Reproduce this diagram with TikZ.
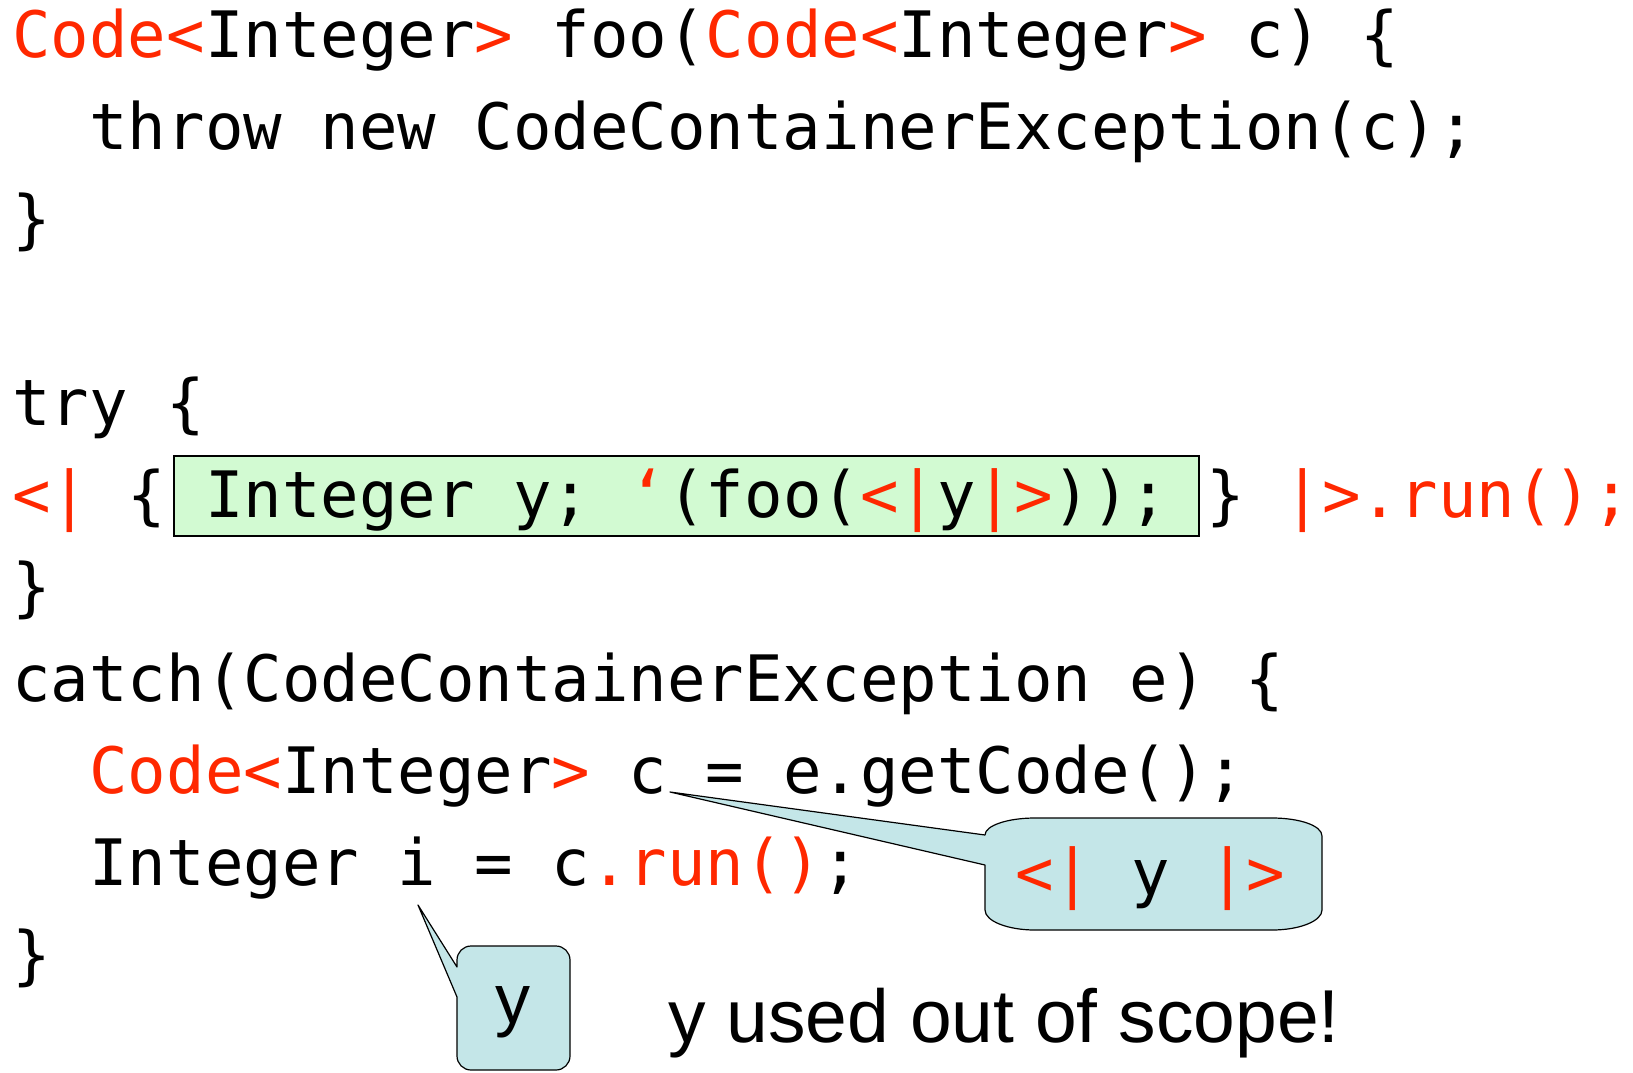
\documentclass[tikz,border=0pt]{standalone}
\usepackage{fontspec}
\newfontfamily\codefont{DejaVu Sans Mono}
\newfontfamily\labelfont{Liberation Sans}
\definecolor{codered}{RGB}{255,40,0}
\definecolor{boxgreen}{RGB}{210,250,210}
\definecolor{calloutfill}{RGB}{196,230,232}
\newcommand{\rd}[1]{\textcolor{codered}{#1}}
\tikzset{
  codeline/.style={anchor=base west, inner sep=0pt, font=\codefont\fontsize{32pt}{46pt}\selectfont},
  calloutshape/.style={draw=black, line width=0.6pt, fill=calloutfill, line join=round},
  greenbox/.style={draw=black, line width=0.75pt, fill=boxgreen},
  remark/.style={anchor=base west, inner sep=0pt, font=\labelfont\fontsize{37.5pt}{45pt}\selectfont},
  calloutlabel/.style={anchor=base, inner sep=0pt, font=\labelfont\fontsize{35pt}{42pt}\selectfont}
}
\begin{document}
\begin{tikzpicture}[x=0.5pt,y=-0.5pt]
\useasboundingbox (0,0) rectangle (1633,1072);
% green highlight box
\draw[greenbox] (174,456) rectangle (1199,536);
% code lines
\node[codeline] (l1) at (12,57) {\rd{Code<}Integer\rd{>} foo(\rd{Code<}Integer\rd{>} c) \{};
\node[codeline] (l2) at (89.06,149) {throw new CodeContainerException(c);};
\node[codeline] (l3) at (12,241) {\}};
\node[codeline] (l5) at (12,425) {try \{};
\node[codeline] (l6) at (12,517) {\rd{<|} \{ Integer y; \rd{‘}(foo(\rd{<|}y\rd{|>})); \} \rd{|>.run();}};
\node[codeline] (l7) at (12,609) {\}};
\node[codeline] (l8) at (12,701) {catch(CodeContainerException e) \{};
\node[codeline] (l9) at (89.06,793) {\rd{Code<}Integer\rd{>} c = e.getCode();};
\node[codeline] (l10) at (89.06,885) {Integer i = c\rd{.run()};};
\node[codeline] (l11) at (12,977) {\}};
% callout 1
\coordinate (tipA) at (670,792);
\draw[calloutshape] (tipA) -- (985,835)
  .. controls (985,825.6) and (1007.4,818) .. (1035,818)
  -- (1272,818)
  .. controls (1299.6,818) and (1322,825.6) .. (1322,836)
  -- (1322,910)
  .. controls (1322,921) and (1299.6,930) .. (1272,930)
  -- (1035,930)
  .. controls (1007.4,930) and (985,921) .. (985,910)
  -- (985,865) -- cycle;
\node[codeline] (c1) at (1015,895) {\rd{<|} y \rd{|>}};
% callout 2
\coordinate (tipB) at (418,905);
\draw[calloutshape] (tipB) -- (457,967) -- (457,960)
  .. controls (457,952.3) and (463.3,946) .. (471,946)
  -- (556,946)
  .. controls (563.7,946) and (570,952.3) .. (570,960)
  -- (570,1056)
  .. controls (570,1063.7) and (563.7,1070) .. (556,1070)
  -- (471,1070)
  .. controls (463.3,1070) and (457,1063.7) .. (457,1056)
  -- (457,997) -- cycle;
\node[calloutlabel] (c2) at (513,1023) {y};
% remark
\node[remark] (note) at (668,1042) {y used out of scope!};
\end{tikzpicture}
\end{document}
